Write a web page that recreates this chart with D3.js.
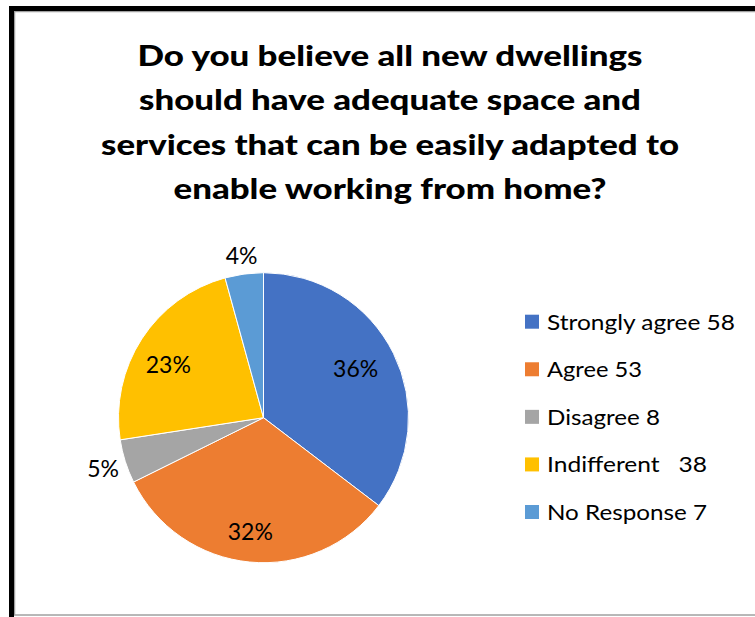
<!DOCTYPE html>
<html>
<head>
<meta charset="utf-8">
<script src="https://cdn.jsdelivr.net/npm/d3@7"></script>
<style>
  html, body { margin: 0; padding: 0; background: #fff; }
  svg { display: block; }
  text { font-family: Lato, "Open Sans", "Liberation Sans", sans-serif; }
</style>
</head>
<body>
<svg id="chart" width="755" height="617"></svg>
<script>
// ---- data ----
const categories = ["Strongly agree", "Agree", "Disagree", "Indifferent", "No Response"];
const values = [58, 53, 8, 38, 7];
const legendLabels = ["Strongly agree 58", "Agree 53", "Disagree 8", "Indifferent   38", "No Response 7"];
const percentLabels = ["36%", "32%", "5%", "23%", "4%"];
const colors = ["#4472C4", "#ED7D31", "#A5A5A5", "#FFC000", "#5B9BD5"];
const titleLines = [
  "Do you believe all new dwellings",
  "should have adequate space and",
  "services that can be easily adapted to",
  "enable working from home?"
];

const svg = d3.select("#chart");
const W = 755, H = 617;

// frame
svg.append("rect").attr("x", 14.5).attr("y", 11.5).attr("width", 800).attr("height", 603.5)
  .attr("fill", "#fff").attr("stroke", "#a0a0a0").attr("stroke-width", 1.5);
svg.append("rect").attr("x", 9).attr("y", 6).attr("width", W - 9).attr("height", 5).attr("fill", "#000");
svg.append("rect").attr("x", 9).attr("y", 6).attr("width", 5).attr("height", H - 6).attr("fill", "#000");

// title
const titleWidths = [505, 502, 578, 433];
const titleBaselines = [66, 110, 154.5, 199];
svg.append("g").selectAll("text").data(titleLines).join("text")
  .attr("x", 390)
  .attr("y", (d, i) => titleBaselines[i])
  .attr("text-anchor", "middle")
  .attr("font-size", 28)
  .attr("font-weight", "900")
  .attr("fill", "#000")
  .attr("textLength", (d, i) => titleWidths[i])
  .attr("lengthAdjust", "spacingAndGlyphs")
  .text(d => d);

// pie
const cx = 263.5, cy = 417.7, r = 145;
const total = d3.sum(values);
const pie = d3.pie().sort(null).value(d => d)(values);
const arc = d3.arc().innerRadius(0).outerRadius(r);
const g = svg.append("g").attr("transform", `translate(${cx},${cy})`);
g.selectAll("path").data(pie).join("path")
  .attr("d", arc)
  .attr("fill", (d, i) => colors[i])
  .attr("stroke", "#fff")
  .attr("stroke-width", 1);

// label placement (style): radius factor per slice, Excel best-fit look
const labelRadius = [0.72, 0.79, 1.16, 0.75, 1.13];
const labelAngleNudge = [-0.03, 0.02, 0, -0.07, 0];
g.selectAll("text.pct").data(pie).join("text")
  .attr("class", "pct")
  .attr("transform", (d, i) => {
    const a = (d.startAngle + d.endAngle) / 2 + labelAngleNudge[i];
    const rr = r * labelRadius[i];
    return `translate(${rr * Math.sin(a)},${-rr * Math.cos(a)})`;
  })
  .attr("text-anchor", "middle")
  .attr("dy", "0.36em")
  .attr("font-size", 23)
  .attr("fill", "#000")
  .text((d, i) => percentLabels[i]);

// legend
const legendWidths = [188, 95, 113, 160, 160];
const lg = svg.append("g");
const rowY = d3.scalePoint().domain(categories).range([321.7, 512]);
const items = lg.selectAll("g").data(categories).join("g")
  .attr("transform", d => `translate(525,${rowY(d)})`);
items.append("rect").attr("x", 0).attr("y", -7).attr("width", 14).attr("height", 14)
  .attr("fill", (d, i) => colors[i]);
items.append("text")
  .attr("x", 22).attr("dy", "0.36em")
  .attr("font-size", 22)
  .attr("fill", "#000")
  .style("white-space", "pre")
  .attr("textLength", (d, i) => legendWidths[i])
  .attr("lengthAdjust", "spacingAndGlyphs")
  .text((d, i) => legendLabels[i]);
</script>
</body>
</html>
